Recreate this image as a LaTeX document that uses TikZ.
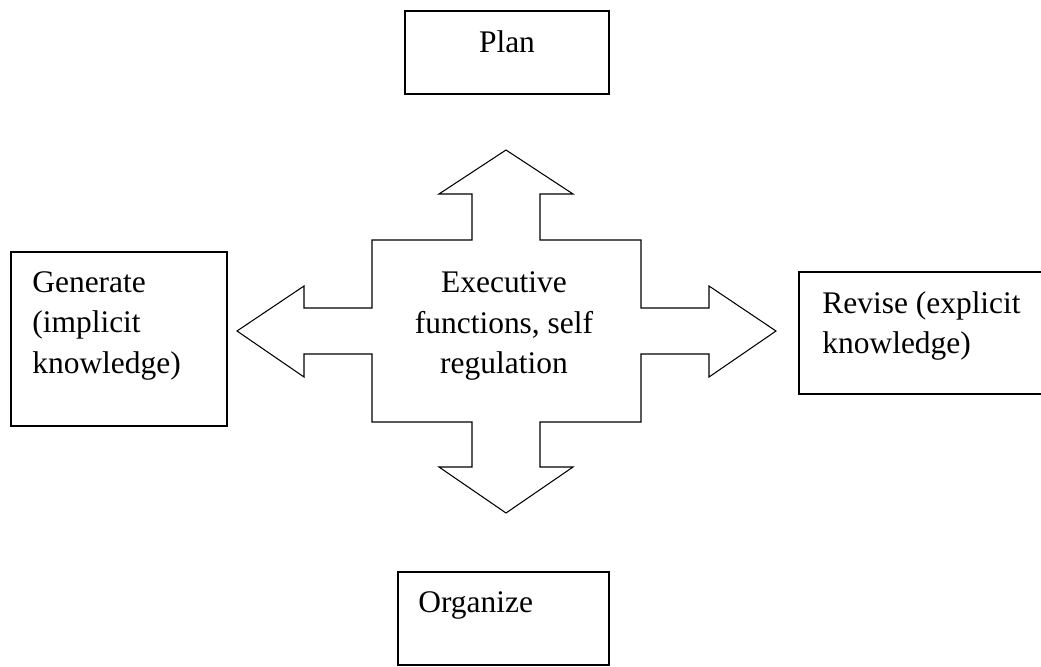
\documentclass[tikz,border=0pt]{standalone}
\usepackage{fontspec}
\setmainfont{Liberation Serif}
\tikzset{
  box/.style={draw, line width=0.75pt, inner sep=0pt},
  txt/.style={inner sep=0pt, font=\fontsize{17.9}{23}\selectfont},
  cross/.style={draw, line width=0.6pt, line join=miter}
}
\begin{document}
\begin{tikzpicture}[x=0.2mm, y=-0.2mm]
 \useasboundingbox (0,0) rectangle (1041,666);
 \clip (0,0) rectangle (1041,666);
 % the four boxes
 \node [box, minimum width=40.8mm, minimum height=16.6mm] (plan) at (507,52.5) {};
 \node [box, minimum width=43.2mm, minimum height=34.8mm] (generate) at (119,339) {};
 \node [box, minimum width=52mm, minimum height=24.4mm] (revise) at (929,333) {};
 \node [box, minimum width=42.2mm, minimum height=18.6mm] (organize) at (503.5,618.5) {};
 % their texts
 \node [txt, anchor=base] (plantext) at (507,52) {Plan};
 \node [txt, anchor=north west, align=left] (generatetext) at (32,271) {Generate\\(implicit\\knowledge)};
 \node [txt, anchor=north west, align=left] (revisetext) at (822,291) {Revise (explicit\\knowledge)};
 \node [txt, anchor=base west] (organizetext) at (418,612) {Organize};
 % the cross arrow
 \draw [cross] (506,150) -- (573,194) -- (540,194) -- (540,240) -- (641,240) -- (641,308) -- (709,308) -- (709,286) -- (776,331)
   -- (709,377) -- (709,354) -- (641,354) -- (641,422) -- (540,422) -- (540,467) -- (573,467) -- (506,513) -- (439,467)
   -- (472,467) -- (472,422) -- (372,422) -- (372,354) -- (304,354) -- (304,377) -- (237,331) -- (304,286) -- (304,308)
   -- (372,308) -- (372,240) -- (472,240) -- (472,194) -- (439,194) -- cycle;
 \node [txt, align=center] (exec) at (504,326) {Executive\\functions, self\\regulation};
\end{tikzpicture}
\end{document}
